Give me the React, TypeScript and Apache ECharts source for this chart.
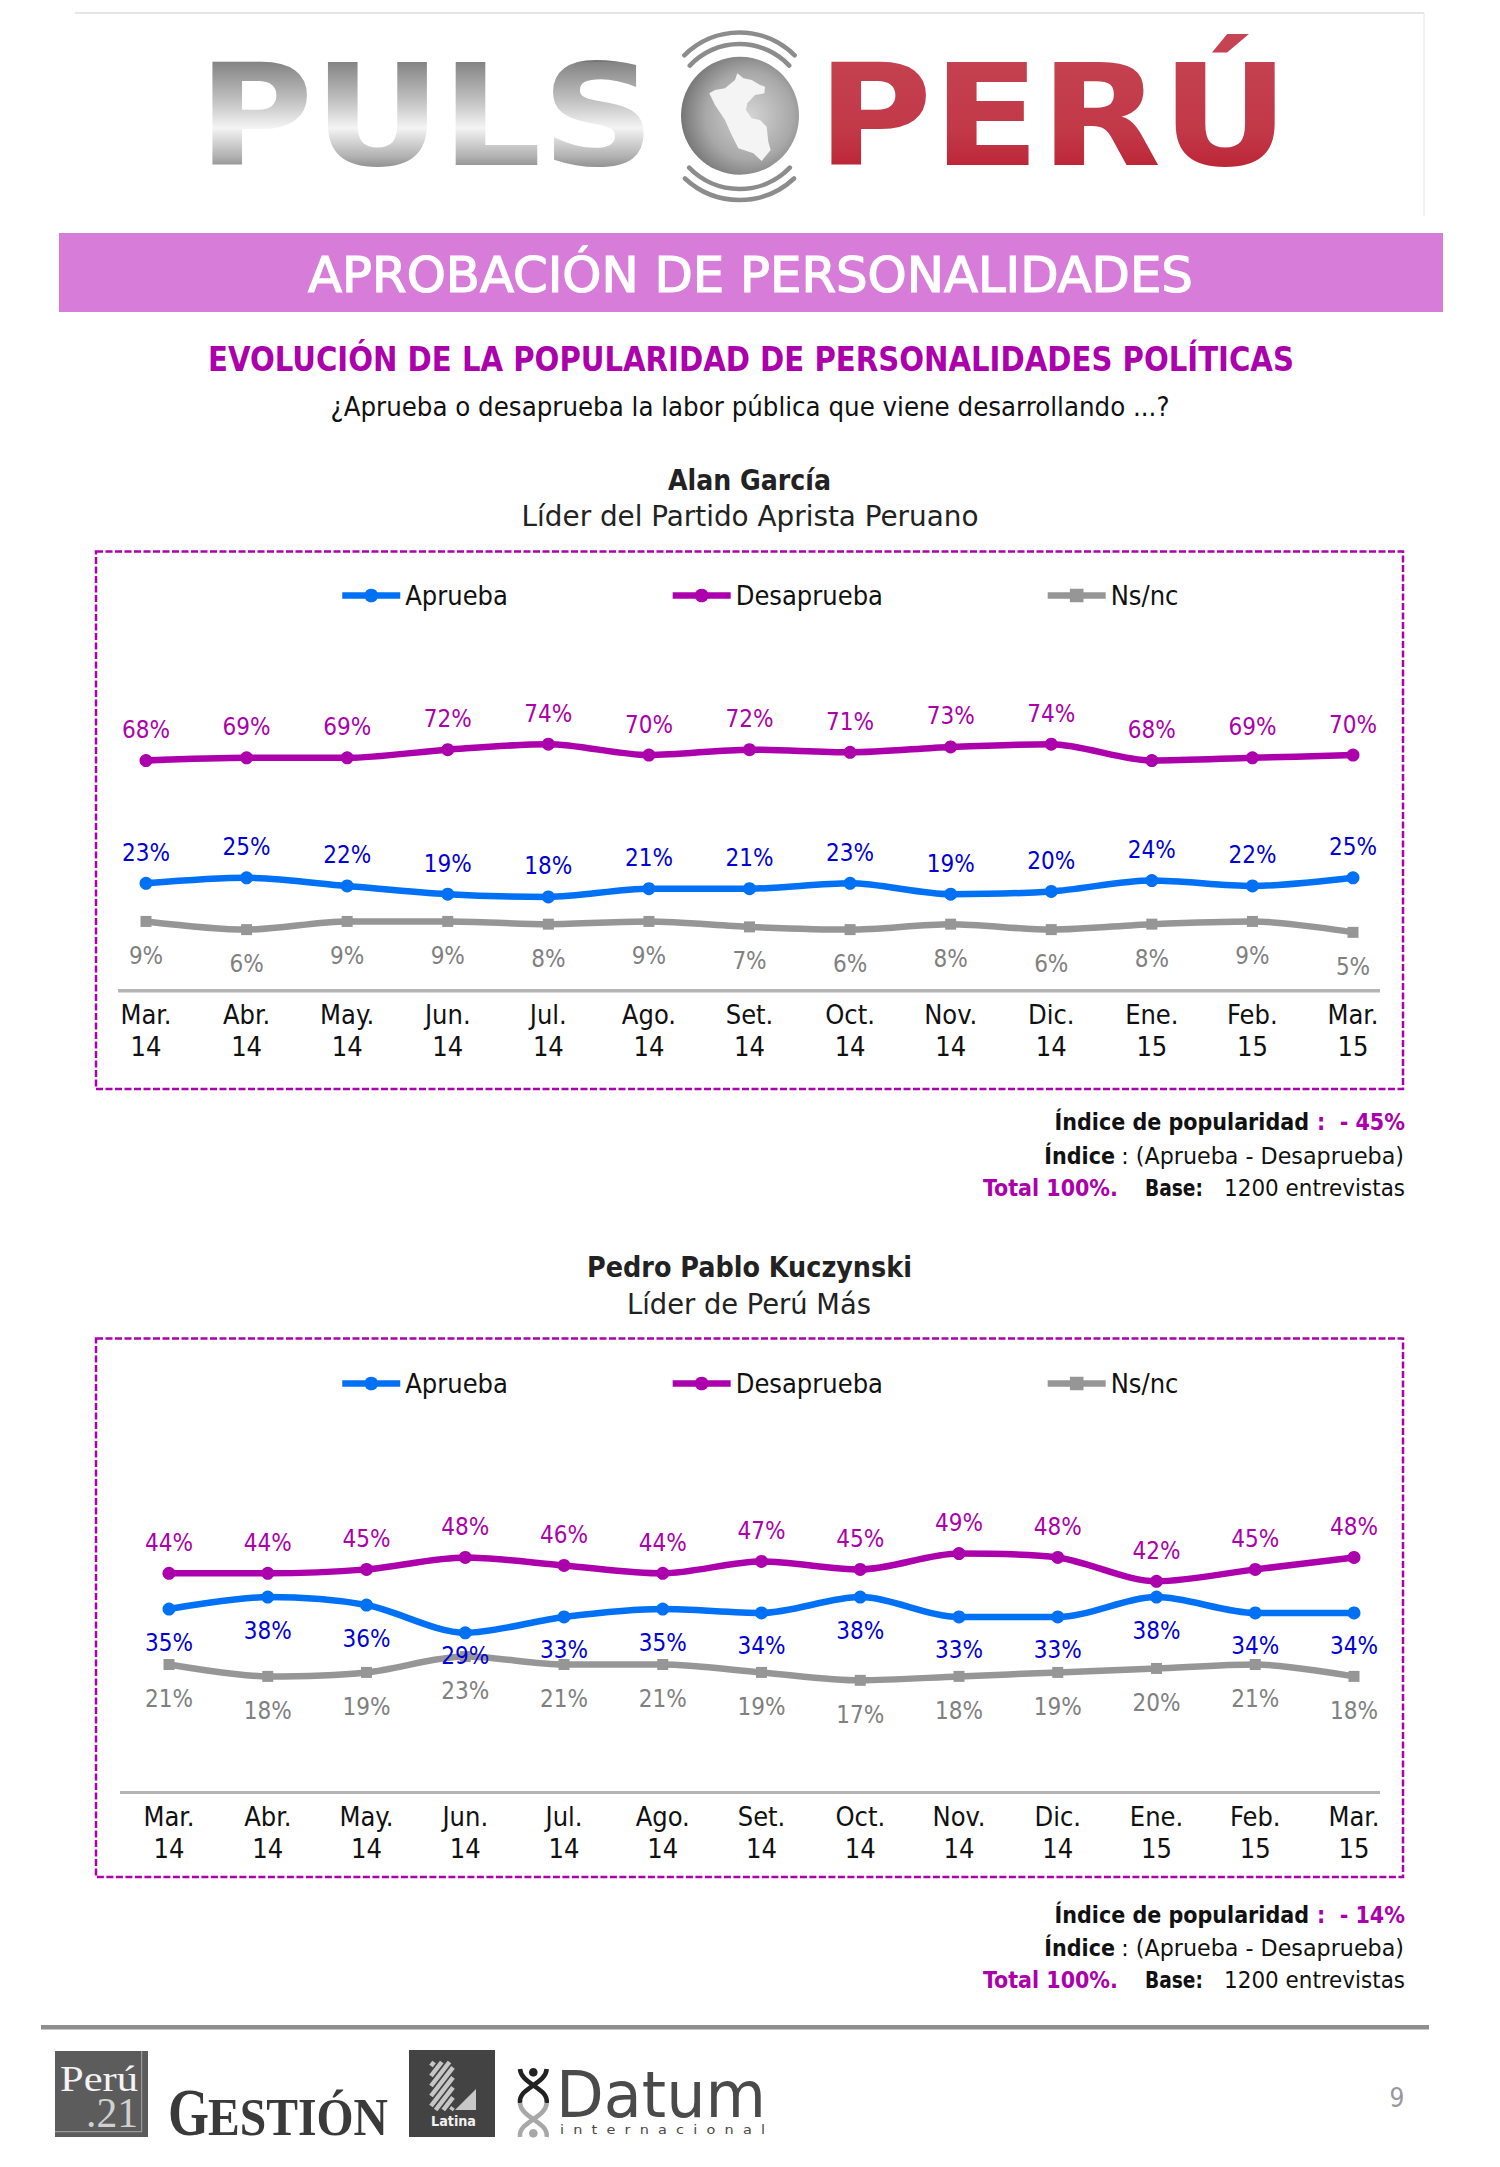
import React, { useEffect, useRef } from "react";
import * as echarts from "echarts";

const categories = ["Mar.\n14","Abr.\n14","May.\n14","Jun.\n14","Jul.\n14","Ago.\n14","Set.\n14","Oct.\n14","Nov.\n14","Dic.\n14","Ene.\n15","Feb.\n15","Mar.\n15"];
const legendNames = ["Aprueba","Desaprueba","Ns/nc"];
const garciaAprueba = [23,25,22,19,18,21,21,23,19,20,24,22,25];
const garciaDesaprueba = [68,69,69,72,74,70,72,71,73,74,68,69,70];
const garciaNs = [9,6,9,9,8,9,7,6,8,6,8,9,5];
const ppkAprueba = [35,38,36,29,33,35,34,38,33,33,38,34,34];
const ppkDesaprueba = [44,44,45,48,46,44,47,45,49,48,42,45,48];
const ppkNs = [21,18,19,23,21,21,19,17,18,19,20,21,18];

const FONT = '"DejaVu Sans Condensed","Noto Sans",sans-serif';
const PURPLE = "#AB00AB";
const LINE_W = 6.5;

function fit(text: string, font: string, w: number) {
  const c = document.createElement("canvas").getContext("2d")!;
  c.font = font;
  return w / c.measureText(text).width;
}

function txt(text: string, x: number, y: number, size: number, o: any = {}) {
  const weight = o.bold ? "bold " : "";
  const fam = o.family || FONT;
  const font = `${weight}${size}px ${fam}`;
  const align = o.align || "left";
  return {
    type: "text",
    x,
    y,
    scaleX: o.width ? fit(text, font, o.width) : 1,
    z: o.z || 10,
    style: {
      text, font, fill: o.fill || "#111", align, textAlign: align, verticalAlign: "middle", textVerticalAlign: "middle",
      ...(o.stroke ? { stroke: o.stroke, lineWidth: o.strokeWidth || 1 } : {}),
    },
  };
}

function notes(y1: number, y2: number, y3: number, idx: string) {
  return [
    txt("Índice de popularidad", 1309, y1, 23, { bold: true, align: "right", fill: "#111" }),
    txt(`:  - ${idx}`, 1405, y1, 23, { bold: true, align: "right", fill: PURPLE }),
    txt("Índice", 1115, y2, 23, { bold: true, align: "right" }),
    txt(": (Aprueba - Desaprueba)", 1404, y2, 23, { align: "right", width: 283 }),
    txt("Total 100%.", 983, y3, 23, { bold: true, fill: PURPLE, width: 135 }),
    txt("Base:", 1145, y3, 23, { bold: true, width: 58 }),
    txt("1200 entrevistas", 1405, y3, 23, { align: "right", width: 181 }),
  ];
}

function logoGraphics(): any[] {
  const logoFont = '"DejaVu Sans",sans-serif';
  const arc = (cy: number, r: number, half: number, up: boolean) => {
    const h = (half * Math.PI) / 180;
    const mid = up ? -Math.PI / 2 : Math.PI / 2;
    return { type: "arc", shape: { cx: 739.5, cy, r, startAngle: mid - h, endAngle: mid + h }, style: { stroke: "#8c8c8c", lineWidth: 4.5, fill: "none", lineCap: "round" }, z: 5 };
  };
  const peru = [[232,145],[250,160],[275,165],[300,180],[315,185],[313,205],[285,210],[262,235],[258,255],[275,280],[300,285],[320,305],[325,350],[332,375],[305,408],[280,385],[235,370],[215,330],[195,285],[165,240],[148,205],[165,195],[195,190],[225,165]].map(([a, b]) => [660 + a / 3, 25 + b / 3]);
  return [
    { type: "line", shape: { x1: 75, y1: 13, x2: 1424, y2: 13 }, style: { stroke: "#dddddd", lineWidth: 1.5 } },
    { type: "line", shape: { x1: 1424, y1: 13, x2: 1424, y2: 216 }, style: { stroke: "#e4e4e4", lineWidth: 1 } },
    txt("PULS", 198, 117, 140, { bold: true, family: logoFont, fill: "#767676", width: 457, z: 5 }),
    { type: "rect", shape: { x: 190, y: 62, width: 465, height: 110 }, z: 6, style: { fill: new echarts.graphic.LinearGradient(0, 0, 0, 1, [
      { offset: 0, color: "rgba(255,255,255,0.1)" }, { offset: 0.35, color: "rgba(255,255,255,0.55)" }, { offset: 0.6, color: "rgba(255,255,255,0.92)" }, { offset: 0.85, color: "rgba(255,255,255,0.45)" }, { offset: 1, color: "rgba(255,255,255,0.1)" } ]) } },
    txt("PERÚ", 817, 117, 140, { bold: true, family: logoFont, fill: "#bb2233", width: 472, z: 5 }),
    { type: "rect", shape: { x: 810, y: 30, width: 490, height: 146 }, z: 6, style: { fill: new echarts.graphic.LinearGradient(0, 0, 0, 1, [
      { offset: 0, color: "rgba(255,255,255,0.16)" }, { offset: 0.7, color: "rgba(255,255,255,0.1)" }, { offset: 1, color: "rgba(255,255,255,0)" } ]) } },
    { type: "ellipse", shape: { cx: 740, cy: 115.7, rx: 59, ry: 59 }, z: 5, style: { fill: new echarts.graphic.RadialGradient(0.58, 0.5, 0.62, [
      { offset: 0, color: "#d4d4d4" }, { offset: 0.6, color: "#a8a8a8" }, { offset: 1, color: "#6c6c6c" } ]) } },
    { type: "polygon", shape: { points: peru }, z: 6, style: { fill: "#f4f4f4" } },
    arc(110.5, 78, 45, true),
    arc(112, 68, 47, true),
    arc(120, 80, 43, false),
    arc(119, 70, 46, false),
    { type: "rect", shape: { x: 59, y: 233, width: 1384, height: 79 }, style: { fill: "#D87CD9" } },
    txt("APROBACIÓN DE PERSONALIDADES", 750.5, 274, 50, { align: "center", fill: "#fff", width: 885, stroke: "#fff", strokeWidth: 1.2 }),
    txt("EVOLUCIÓN DE LA POPULARIDAD DE PERSONALIDADES POLÍTICAS", 751, 359, 34, { bold: true, align: "center", fill: PURPLE, width: 1086 }),
    txt("¿Aprueba o desaprueba la labor pública que viene desarrollando ...?", 750, 407, 26, { align: "center", fill: "#111", width: 839 }),
  ];
}

function footerGraphics(): any[] {
  const serif = '"Liberation Serif",serif';
  const sans = '"DejaVu Sans",sans-serif';
  const hatch: any[] = [];
  const [hx1, hx2, hy1, hy2, slope] = [431, 453, 2062, 2110, 1.3];
  for (let c = hy1 + 4; c < hy2 + (hx2 - hx1) * slope; c += 10) {
    const xa = c > hy2 ? hx1 + (c - hy2) / slope : hx1;
    const ya = Math.min(c, hy2);
    const end = c - (hx2 - hx1) * slope;
    const xb = end < hy1 ? hx1 + (c - hy1) / slope : hx2;
    const yb = Math.max(end, hy1);
    hatch.push({ type: "line", shape: { x1: xa, y1: ya, x2: xb, y2: yb }, style: { stroke: "#c6c6c6", lineWidth: 4.5 }, z: 12 });
  }
  const strand = (x1: number, x2: number, y1: number, y2: number, stroke: string) => ({
    type: "bezierCurve",
    shape: { x1, y1, cpx1: x1 + (x1 < x2 ? 1 : -1), cpy1: y1 + (y2 - y1) * 0.45, cpx2: x2 + (x1 < x2 ? 2 : -2), cpy2: y1 + (y2 - y1) * 0.55, x2, y2 },
    style: { stroke, lineWidth: 4.5, fill: "none" },
  });
  return [
    { type: "rect", shape: { x: 41, y: 2025, width: 1388, height: 4.5 }, style: { fill: "#8f8f8f" } },
    { type: "rect", shape: { x: 55, y: 2051, width: 93, height: 86 }, style: { fill: "#5c5c5c" } },
    { type: "rect", shape: { x: 141, y: 2051, width: 1.2, height: 81 }, z: 11, style: { fill: "#9a9a9a" } },
    { type: "rect", shape: { x: 55, y: 2131, width: 87, height: 1.2 }, z: 11, style: { fill: "#9a9a9a" } },
    txt("Perú", 60, 2079, 36, { family: serif, fill: "#f4f4f4", width: 78 }),
    txt(".21", 138, 2112, 43, { family: serif, align: "right", fill: "#d0d0d0", width: 52 }),
    txt("G", 168, 2112, 68, { family: serif, bold: true, fill: "#3a3a3a", width: 41 }),
    txt("ESTIÓN", 208, 2117, 53, { family: serif, bold: true, fill: "#3a3a3a", width: 180 }),
    { type: "rect", shape: { x: 409, y: 2050, width: 86, height: 87 }, style: { fill: "#434343" } },
    ...hatch,
    { type: "polygon", shape: { points: [[455, 2110], [476, 2110], [476, 2089]] }, z: 12, style: { fill: "#c8c8c8" } },
    txt("Latina", 453.5, 2121, 14, { bold: true, align: "center", fill: "#f2f2f2", width: 45 }),
    { type: "circle", shape: { cx: 533.3, cy: 2072.3, r: 4.3 }, style: { fill: "#222" } },
    { type: "circle", shape: { cx: 533.3, cy: 2133.3, r: 4.3 }, style: { fill: "#a8a8a8" } },
    strand(520, 546.7, 2069, 2103, "#222"),
    strand(546.7, 520, 2069, 2103, "#222"),
    strand(546.7, 520, 2103, 2137, "#a8a8a8"),
    strand(520, 546.7, 2103, 2137, "#a8a8a8"),
    txt("Datum", 556, 2095, 64, { family: sans, fill: "#4a4a4a", width: 210 }),
    txt("i  n  t  e  r  n  a  c  i  o  n  a  l", 560, 2129, 13, { family: sans, fill: "#4a4a4a", width: 205 }),
    txt("9", 1397, 2098, 26, { align: "center", fill: "#999" }),
  ];
}

function lineSeries(name: string, values: number[], gi: number, color: string, labelColor: string, pos: string, symbol: string, dist: number, near: number[] = []) {
  return {
    name,
    type: "line",
    xAxisIndex: gi,
    yAxisIndex: gi,
    data: values.map((v, i) => (near.includes(i) ? { value: v, label: { distance: 5 } } : v)),
    smooth: 0.3,
    symbol,
    symbolSize: symbol === "rect" ? 11 : 13,
    lineStyle: { color, width: LINE_W },
    itemStyle: { color },
    label: { show: true, position: pos, distance: dist, formatter: "{c}%", color: labelColor, fontSize: 24, fontFamily: FONT },
  };
}

function makeLegend(top: number) {
  return {
    data: legendNames,
    left: 334,
    top,
    itemGap: 161.5,
    itemWidth: 58,
    itemHeight: 17,
    selectedMode: false,
    lineStyle: { width: LINE_W },
    textStyle: { color: "#111", fontSize: 27, fontFamily: FONT },
  };
}

export default function App() {
  const ref = useRef<HTMLDivElement>(null);
  useEffect(() => {
    document.body.style.margin = "0";
    const chart = echarts.init(ref.current!, undefined, { renderer: "svg" });
    const k1 = 2.727, k2 = 3.963;
    const axis1 = 990.7, axis2 = 1792.5;
    const xLabel = { interval: 0, color: "#111", fontSize: 27, fontFamily: FONT, lineHeight: 32, margin: 8, hideOverlap: false };
    chart.setOption({
      animation: false,
      backgroundColor: "#fff",
      legend: [makeLegend(577), makeLegend(1365)],
      grid: [
        { left: 146, width: 1207, top: axis1 - (80 + 16.4) * k1, height: (80 + 16.4) * k1 },
        { left: 169, width: 1185, top: axis2 - (60 + 11.3) * k2, height: (60 + 11.3) * k2 },
      ],
      xAxis: [0, 1].map((g) => ({
        type: "category", gridIndex: g, data: categories, boundaryGap: false,
        axisLine: { show: false }, axisTick: { show: false }, splitLine: { show: false }, axisLabel: xLabel,
      })),
      yAxis: [
        { type: "value", gridIndex: 0, min: -16.4, max: 80, show: false },
        { type: "value", gridIndex: 1, min: -11.3, max: 60, show: false },
      ],
      series: [
        lineSeries("Aprueba", garciaAprueba, 0, "#0070F5", "#0000D8", "top", "circle", 12),
        lineSeries("Desaprueba", garciaDesaprueba, 0, PURPLE, PURPLE, "top", "circle", 12),
        lineSeries("Ns/nc", garciaNs, 0, "#969696", "#808080", "bottom", "rect", 17),
        lineSeries("Aprueba", ppkAprueba, 1, "#0070F5", "#0000D8", "bottom", "circle", 15, [3]),
        lineSeries("Desaprueba", ppkDesaprueba, 1, PURPLE, PURPLE, "top", "circle", 12),
        lineSeries("Ns/nc", ppkNs, 1, "#969696", "#808080", "bottom", "rect", 17),
      ],
      graphic: {
        elements: [
          ...logoGraphics(),
          txt("Alan García", 749.5, 481, 28, { bold: true, align: "center", fill: "#222", width: 163 }),
          txt("Líder del Partido Aprista Peruano", 750, 517, 28, { align: "center", fill: "#222", width: 457 }),
          { type: "rect", shape: { x: 96, y: 551.5, width: 1307, height: 537.5 }, style: { fill: "none", stroke: PURPLE, lineWidth: 2.5, lineDash: [7, 2.5] } },
          { type: "line", shape: { x1: 118, y1: axis1, x2: 1380, y2: axis1 }, style: { stroke: "#b4b4b4", lineWidth: 3.5 } },
          ...notes(1122, 1156, 1188, "45%"),
          txt("Pedro Pablo Kuczynski", 749.5, 1268, 28, { bold: true, align: "center", fill: "#222", width: 325 }),
          txt("Líder de Perú Más", 749, 1304, 28, { align: "center", fill: "#222", width: 244 }),
          { type: "rect", shape: { x: 96, y: 1338.6, width: 1307, height: 538.4 }, style: { fill: "none", stroke: PURPLE, lineWidth: 2.5, lineDash: [7, 2.5] } },
          { type: "line", shape: { x1: 120, y1: axis2, x2: 1380, y2: axis2 }, style: { stroke: "#b4b4b4", lineWidth: 3 } },
          ...notes(1915, 1948, 1980, "14%"),
          ...footerGraphics(),
        ],
      },
    });
    return () => chart.dispose();
  }, []);
  return <div ref={ref} style={{ position: "absolute", left: 0, top: 0, width: 1500, height: 2167 }} />;
}
